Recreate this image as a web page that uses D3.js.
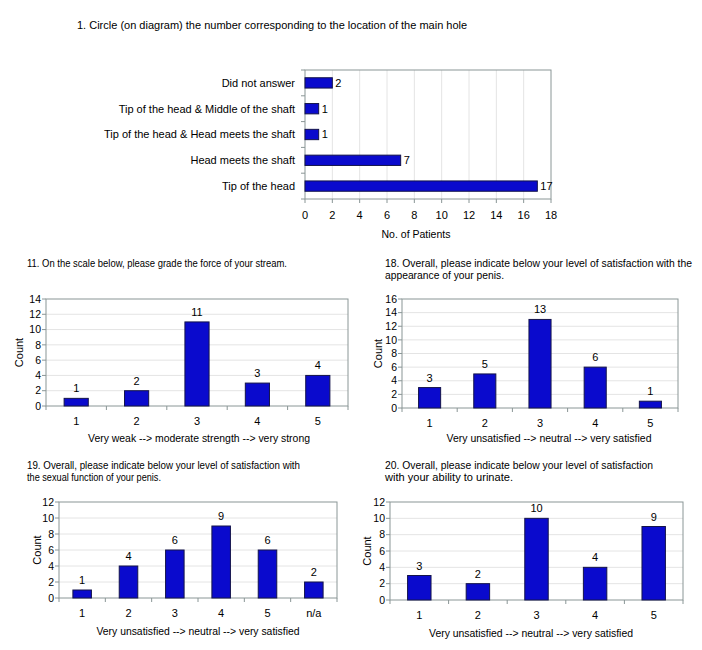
<!DOCTYPE html>
<html>
<head>
<meta charset="utf-8">
<script src="https://cdn.jsdelivr.net/npm/d3@7"></script>
<style>
  body { margin: 0; background: #fff; }
  svg text { font-family: "Liberation Sans", Arial, sans-serif; fill: #000; }
</style>
</head>
<body>
<div id="chart"></div>
<script>
// data
let q1Labels = ["Did not answer", "Tip of the head & Middle of the shaft",
    "Tip of the head & Head meets the shaft", "Head meets the shaft", "Tip of the head"];
let q1Values = [2, 1, 1, 7, 17];

let q11Cats = ["1", "2", "3", "4", "5"];
let q11Values = [1, 2, 11, 3, 4];

let q18Cats = ["1", "2", "3", "4", "5"];
let q18Values = [3, 5, 13, 6, 1];

let q19Cats = ["1", "2", "3", "4", "5", "n/a"];
let q19Values = [1, 4, 6, 9, 6, 2];

let q20Cats = ["1", "2", "3", "4", "5"];
let q20Values = [3, 2, 10, 4, 9];

let barFill = "#0a0acd", barStroke = "#14144a",
    frameColor = "#8a9696", gridColor = "#e4e4e4";

let svg = d3.select("#chart").append("svg")
    .attr("width", 702)
    .attr("height", 650);

// text squeezed to the width it has in the scanned figure
function fitText(g, x, y, str, len, anchor) {
    return g.append("text")
        .attr("x", x).attr("y", y)
        .attr("textLength", len)
        .attr("lengthAdjust", "spacingAndGlyphs")
        .style("text-anchor", anchor || "start")
        .style("font-size", "10px")
        .text(str);
}

// ---- question 1: horizontal bars
let hb = { left: 305, right: 551, top: 70, bottom: 199 };

svg.append("text")
    .attr("x", 77).attr("y", 29)
    .style("font-size", "11px")
    .text("1. Circle (on diagram) the number corresponding to the location of the main hole");

let xh = d3.scaleLinear().domain([0, 18]).range([hb.left, hb.right]);
let yh = d3.scaleBand().domain(q1Labels).range([hb.top, hb.bottom]).paddingInner(0.6).paddingOuter(0.3);
let yhTicks = d3.scaleBand().domain(q1Labels).range([hb.top, hb.bottom]);

let gh = svg.append("g");
gh.selectAll(".grid")
    .data(d3.range(2, 18, 2))
    .enter().append("line")
    .attr("x1", d => xh(d)).attr("x2", d => xh(d))
    .attr("y1", hb.top).attr("y2", hb.bottom)
    .attr("stroke", gridColor);

gh.append("rect")
    .attr("x", hb.left).attr("y", hb.top)
    .attr("width", hb.right - hb.left).attr("height", hb.bottom - hb.top)
    .attr("fill", "none").attr("stroke", frameColor);

// category separators on the value axis
gh.selectAll(".ytick")
    .data(q1Labels)
    .enter().append("line")
    .attr("x1", hb.left - 4).attr("x2", hb.left)
    .attr("y1", d => yhTicks(d)).attr("y2", d => yhTicks(d))
    .attr("stroke", frameColor);
gh.append("line")
    .attr("x1", hb.left - 4).attr("x2", hb.left)
    .attr("y1", hb.bottom).attr("y2", hb.bottom)
    .attr("stroke", frameColor);
gh.selectAll(".xtick")
    .data(d3.range(0, 19, 2))
    .enter().append("line")
    .attr("x1", d => xh(d)).attr("x2", d => xh(d))
    .attr("y1", hb.bottom).attr("y2", hb.bottom + 4)
    .attr("stroke", frameColor);

gh.selectAll(".bar")
    .data(q1Labels)
    .enter().append("rect")
    .attr("x", xh(0))
    .attr("y", d => yh(d))
    .attr("width", (d, i) => xh(q1Values[i]) - xh(0))
    .attr("height", yh.bandwidth())
    .attr("fill", barFill).attr("stroke", barStroke);

gh.selectAll(".val")
    .data(q1Labels)
    .enter().append("text")
    .attr("x", (d, i) => xh(q1Values[i]) + 3)
    .attr("y", d => yh(d) + yh.bandwidth() / 2)
    .attr("dy", "0.35em")
    .style("font-size", "11px")
    .text((d, i) => q1Values[i]);

gh.selectAll(".cat")
    .data(q1Labels)
    .enter().append("text")
    .attr("x", hb.left - 10)
    .attr("y", d => yh(d) + yh.bandwidth() / 2)
    .attr("dy", "0.35em")
    .style("text-anchor", "end")
    .style("font-size", "11px")
    .text(d => d);

gh.selectAll(".xlab")
    .data(d3.range(0, 19, 2))
    .enter().append("text")
    .attr("x", d => xh(d)).attr("y", 219)
    .style("text-anchor", "middle")
    .style("font-size", "11px")
    .text(d => d);

fitText(gh, 416, 238, "No. of Patients", 69, "middle");

// ---- vertical bar charts
function columnChart(o) {
    let g = svg.append("g");

    o.title.forEach(function(line, i) {
        fitText(g, o.titleX, o.titleY + i * 12, line, o.titleLen[i]);
    });

    let x = d3.scaleBand().domain(o.cats).range([o.left, o.right]).paddingInner(0.6).paddingOuter(0.3);
    let xt = d3.scaleBand().domain(o.cats).range([o.left, o.right]);
    let y = d3.scaleLinear().domain([0, o.max]).range([o.bottom, o.top]);
    let ticks = d3.range(0, o.max + 1, 2);

    g.selectAll(".grid")
        .data(ticks.slice(1, -1))
        .enter().append("line")
        .attr("x1", o.left).attr("x2", o.right)
        .attr("y1", d => y(d)).attr("y2", d => y(d))
        .attr("stroke", gridColor);

    g.append("rect")
        .attr("x", o.left).attr("y", o.top)
        .attr("width", o.right - o.left).attr("height", o.bottom - o.top)
        .attr("fill", "none").attr("stroke", frameColor);

    g.selectAll(".yt")
        .data(ticks)
        .enter().append("line")
        .attr("x1", o.left - 4).attr("x2", o.left)
        .attr("y1", d => y(d)).attr("y2", d => y(d))
        .attr("stroke", frameColor);

    g.selectAll(".xt")
        .data(o.cats)
        .enter().append("line")
        .attr("x1", d => xt(d)).attr("x2", d => xt(d))
        .attr("y1", o.bottom).attr("y2", o.bottom + 4)
        .attr("stroke", frameColor);
    g.append("line")
        .attr("x1", o.right).attr("x2", o.right)
        .attr("y1", o.bottom).attr("y2", o.bottom + 4)
        .attr("stroke", frameColor);

    g.selectAll(".ylab")
        .data(ticks)
        .enter().append("text")
        .attr("x", o.left - 5).attr("y", d => y(d))
        .attr("dy", "0.35em")
        .style("text-anchor", "end")
        .style("font-size", "10.5px")
        .text(d => d);

    g.selectAll(".bar")
        .data(o.cats)
        .enter().append("rect")
        .attr("x", d => x(d))
        .attr("y", (d, i) => y(o.values[i]))
        .attr("width", x.bandwidth())
        .attr("height", (d, i) => y(0) - y(o.values[i]))
        .attr("fill", barFill).attr("stroke", barStroke);

    g.selectAll(".val")
        .data(o.cats)
        .enter().append("text")
        .attr("x", d => x(d) + x.bandwidth() / 2)
        .attr("y", (d, i) => y(o.values[i]) - 6)
        .style("text-anchor", "middle")
        .style("font-size", "11px")
        .text((d, i) => o.values[i]);

    g.selectAll(".xlab")
        .data(o.cats)
        .enter().append("text")
        .attr("x", d => x(d) + x.bandwidth() / 2)
        .attr("y", o.bottom + 19)
        .style("text-anchor", "middle")
        .style("font-size", "11px")
        .text(d => d);

    fitText(g, o.axisX, o.axisY, o.axisTitle, o.axisLen, "middle");

    g.append("text")
        .attr("transform", "translate(" + o.countX + "," + ((o.top + o.bottom) / 2) + ") rotate(-90)")
        .attr("dy", "0.35em")
        .style("text-anchor", "middle")
        .style("font-size", "11px")
        .text("Count");
}

columnChart({
    title: ["11. On the scale below, please grade the force of your stream."],
    titleX: 27, titleY: 267, titleLen: [260],
    cats: q11Cats, values: q11Values, max: 14,
    left: 46, right: 348, top: 299, bottom: 406,
    axisTitle: "Very weak --> moderate strength --> very strong",
    axisX: 199, axisY: 442, axisLen: 222,
    countX: 19
});

columnChart({
    title: ["18. Overall, please indicate below your level of satisfaction with the",
        "appearance of your penis."],
    titleX: 385, titleY: 267, titleLen: [307, 119],
    cats: q18Cats, values: q18Values, max: 16,
    left: 402, right: 678, top: 299, bottom: 408,
    axisTitle: "Very unsatisfied --> neutral --> very satisfied",
    axisX: 549, axisY: 442, axisLen: 205,
    countX: 378
});

columnChart({
    title: ["19. Overall, please indicate below your level of satisfaction with",
        "the sexual function of your penis."],
    titleX: 27, titleY: 469, titleLen: [273, 134],
    cats: q19Cats, values: q19Values, max: 12,
    left: 59, right: 337, top: 502, bottom: 598,
    axisTitle: "Very unsatisfied --> neutral --> very satisfied",
    axisX: 198, axisY: 635, axisLen: 203,
    countX: 37
});

columnChart({
    title: ["20. Overall, please indicate below your level of satisfaction",
        "with your ability to urinate."],
    titleX: 385, titleY: 469, titleLen: [268, 128],
    cats: q20Cats, values: q20Values, max: 12,
    left: 390, right: 683, top: 502, bottom: 600,
    axisTitle: "Very unsatisfied --> neutral --> very satisfied",
    axisX: 531, axisY: 637, axisLen: 204,
    countX: 367
});
</script>
</body>
</html>
